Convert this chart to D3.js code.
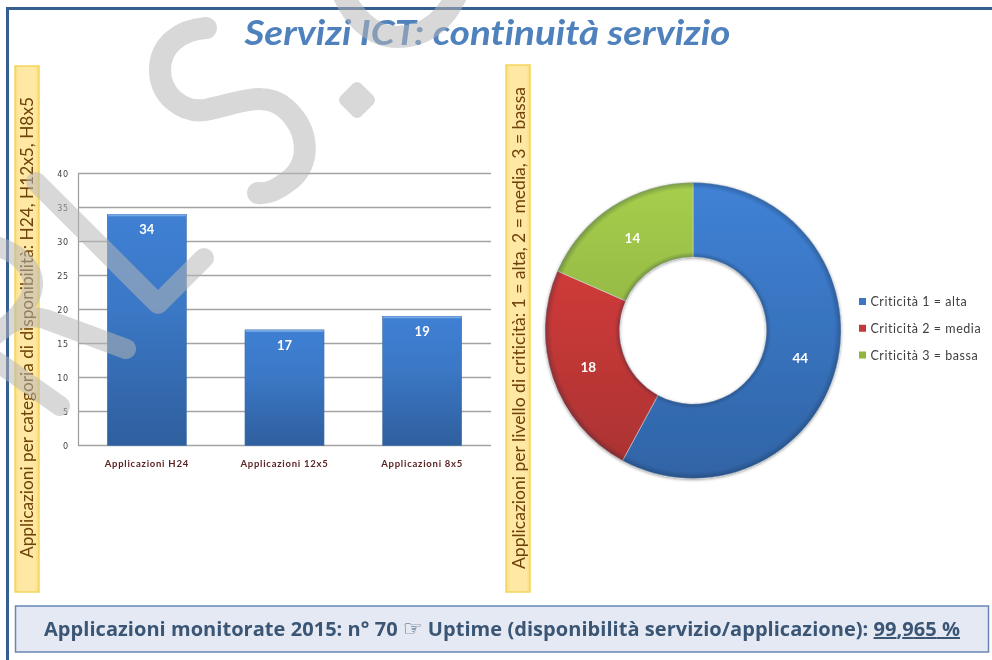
<!DOCTYPE html>
<html><head><meta charset="utf-8">
<script src="https://cdn.jsdelivr.net/npm/d3@7/dist/d3.min.js"></script>
<style>html,body{margin:0;padding:0;background:#fff}svg{display:block}text{font-family:Lato,"Open Sans",sans-serif;font-variant-ligatures:none}</style>
</head><body><svg id="c" width="992" height="660"></svg>
<script>
const titleText = "Servizi ICT: continuità servizio";
const leftCaption = "Applicazioni per categoria di disponibilità: H24, H12x5, H8x5";
const rightCaption = "Applicazioni per livello di criticità: 1 = alta, 2 = media, 3 = bassa";
const barCategories = ["Applicazioni H24", "Applicazioni 12x5", "Applicazioni 8x5"];
const barValues = [34, 17, 19];
const yTicks = [0, 5, 10, 15, 20, 25, 30, 35, 40];
const donutCategories = ["Criticità 1 = alta", "Criticità 2 = media", "Criticità 3 = bassa"];
const donutValues = [44, 18, 14];
const footerLead = "Applicazioni monitorate 2015: n° 70 ";
const footerHand = "☞";
const footerMid = " Uptime (disponibilità servizio/applicazione): ";
const footerValue = "99,965 %";

const svg = d3.select("#c");
const defs = svg.append("defs");
const soft = defs.append("filter").attr("id","soft");
soft.append("feGaussianBlur").attr("stdDeviation",0.35);
const shadow = defs.append("filter").attr("id","shadow").attr("x","-10%").attr("y","-10%").attr("width","120%").attr("height","120%");
shadow.append("feDropShadow").attr("dx",0).attr("dy",1).attr("stdDeviation",1.5).attr("flood-color","#000").attr("flood-opacity",0.4);

function vGrad(id, stops, attrs){
  const g = defs.append("linearGradient").attr("id",id).attr("x1",0).attr("y1",0).attr("x2",0).attr("y2",1);
  if(attrs) Object.entries(attrs).forEach(([k,v])=>g.attr(k,v));
  stops.forEach(([o,c])=>g.append("stop").attr("offset",o).attr("stop-color",c));
}
vGrad("barG",[[0,"#3f80d4"],[0.4,"#3b78c6"],[1,"#2f5f9e"]]);
const donutGrads=[["#4082d6","#3064a6"],["#e03e3c","#a93232"],["#a7ce4c","#7f9f3a"]];
donutGrads.forEach((c,i)=>vGrad("dg"+i,[[0,c[0]],[1,c[1]]],{gradientUnits:"userSpaceOnUse",x1:0,y1:-148,x2:0,y2:148}));
const cap = defs.append("linearGradient").attr("id","capG").attr("x1",0).attr("y1",0).attr("x2",1).attr("y2",0);
[[0,"#f8df74"],[0.15,"#ffe7a4"],[0.85,"#ffe7a4"],[1,"#f8df74"]].forEach(([o,c])=>cap.append("stop").attr("offset",o).attr("stop-color",c));
const bevel = defs.append("radialGradient").attr("id","bevel").attr("gradientUnits","userSpaceOnUse").attr("cx",0).attr("cy",0).attr("r",148);
[[0.497,0.28],[0.53,0],[0.955,0],[1,0.3]].forEach(([o,a])=>bevel.append("stop").attr("offset",o).attr("stop-color","#10233a").attr("stop-opacity",a));

// page frame
svg.append("rect").attr("x",6).attr("y",7).attr("width",986).attr("height",3).attr("fill","#365f91");
svg.append("rect").attr("x",6).attr("y",7).attr("width",3).attr("height",653).attr("fill","#365f91");

// title
svg.append("text").text(titleText).attr("x",487.5).attr("y",45).attr("text-anchor","middle")
  .attr("font-size",34).attr("font-style","italic").attr("font-weight",700).attr("fill","#4f81bd")
  .attr("textLength",486).attr("lengthAdjust","spacingAndGlyphs").attr("filter","url(#soft)");

// side captions
[[15,66,526,leftCaption,33,558,461],[506,65,527,rightCaption,525,569,482]].forEach(([x,y,h,t,tx,ty,len])=>{
  svg.append("rect").attr("x",x).attr("y",y).attr("width",24).attr("height",h).attr("fill","url(#capG)")
    .attr("stroke","#f5d55c").attr("stroke-width",1.5);
  svg.append("text").text(t).attr("transform",`translate(${tx},${ty}) rotate(-90)`)
    .attr("font-size",17.5).attr("fill","#6e4208").attr("textLength",len).attr("lengthAdjust","spacingAndGlyphs")
    .attr("filter","url(#soft)");
});

// bar chart
const x = d3.scaleBand().domain(barCategories).range([78,491]).paddingInner(0.426).paddingOuter(0.213);
const y = d3.scaleLinear().domain([0,40]).range([445.5,173.5]);
const yAxis = d3.axisLeft(y).tickValues(yTicks).tickSize(0).tickPadding(9);
const yG = svg.append("g").attr("transform","translate(78,0)").call(yAxis);
yG.select(".domain").attr("stroke","#9a9a9a").attr("stroke-width",1.2);
yG.selectAll("text").attr("font-size",8).attr("fill","#404040").attr("letter-spacing",0.8)
  .style("font-family","'DejaVu Sans',sans-serif").attr("filter","url(#soft)");
svg.append("g").selectAll("line").data(yTicks).join("line")
  .attr("x1",78).attr("x2",491).attr("y1",d=>y(d)).attr("y2",d=>y(d))
  .attr("stroke","#a3a3a3").attr("stroke-width",1.3);

const bars = svg.append("g").selectAll("g").data(barValues).join("g");
bars.append("rect").attr("x",(d,i)=>x(barCategories[i])).attr("y",d=>y(d))
  .attr("width",x.bandwidth()).attr("height",d=>y(0)-y(d)).attr("fill","url(#barG)")
  .attr("stroke","#3f6ea8").attr("stroke-width",0.6);
bars.append("rect").attr("x",(d,i)=>x(barCategories[i])+0.5).attr("y",d=>y(d)).attr("width",x.bandwidth()-1).attr("height",2)
  .attr("fill","#74a8e4");
bars.append("text").text(d=>d).attr("x",(d,i)=>x(barCategories[i])+x.bandwidth()/2).attr("y",d=>y(d)+20)
  .attr("text-anchor","middle").attr("font-size",13).attr("font-weight",700).attr("fill","#fff").attr("filter","url(#soft)");
svg.append("g").selectAll("text").data(barCategories).join("text").text(d=>d)
  .attr("x",d=>x(d)+x.bandwidth()/2).attr("y",466.5).attr("text-anchor","middle")
  .attr("font-size",9.5).attr("font-weight",700).attr("fill","#5b2222").attr("letter-spacing",0.75).attr("filter","url(#soft)");

// donut chart
const pie = d3.pie().sort(null).value(d=>d);
const arc = d3.arc().innerRadius(73.5).outerRadius(148);
const dG = svg.append("g").attr("transform","translate(693,330.5)");
const arcs = pie(donutValues);
dG.append("g").attr("filter","url(#shadow)").selectAll("path").data(arcs).join("path")
  .attr("d",arc).attr("fill",(d,i)=>`url(#dg${i})`).attr("stroke","#c9d3dc").attr("stroke-width",0.6);
dG.append("g").selectAll("path").data(arcs).join("path").attr("d",arc).attr("fill","url(#bevel)");
dG.append("g").selectAll("text").data(arcs).join("text").text(d=>d.data)
  .attr("x",d=>arc.centroid(d)[0]).attr("y",d=>arc.centroid(d)[1]+5.5)
  .attr("text-anchor","middle").attr("font-size",13.5).attr("font-weight",700).attr("fill","#fff").attr("filter","url(#soft)");

// legend
const legendColors=["#3c76c0","#c23a38","#8fb53f"];
const ly = d3.scalePoint().domain(donutCategories).range([301.5,355]);
const lg = svg.append("g").selectAll("g").data(donutCategories).join("g");
lg.append("rect").attr("x",859).attr("y",d=>ly(d)-3.5).attr("width",7).attr("height",7).attr("fill",(d,i)=>legendColors[i]);
lg.append("text").text(d=>d).attr("x",870.5).attr("y",d=>ly(d)+4.5).attr("font-size",12.5).attr("fill","#404040")
  .attr("letter-spacing",0.55).attr("filter","url(#soft)");

// footer
svg.append("rect").attr("x",15.5).attr("y",606).attr("width",973).attr("height",46).attr("fill","#e4e9f3")
  .attr("stroke","#6a86b6").attr("stroke-width",1.5);
const ft = svg.append("text").attr("x",44).attr("y",636).attr("font-size",20).attr("font-weight",700).attr("fill","#3a5575")
  .style("font-family","'Open Sans',sans-serif").attr("textLength",916).attr("lengthAdjust","spacing").attr("filter","url(#soft)");
ft.append("tspan").text(footerLead);
ft.append("tspan").text(footerHand).style("font-family","'DejaVu Sans'").attr("font-weight",400).attr("font-size",22);
ft.append("tspan").text(footerMid);
ft.append("tspan").text(footerValue).attr("text-decoration","underline");

// watermark
const wm = svg.append("g").attr("opacity",0.53).attr("fill","none").attr("stroke","#b7b7b7")
  .attr("stroke-width",22).attr("stroke-linecap","round").attr("stroke-linejoin","round");
const sPaths = [
 "M206,28 C180,30 160,45 160,70 C160,95 182,113 205,110 C240,103 264,90 285,108 C310,130 312,165 287,182 C277,190 268,194 258,193",
 "M338,-20 C350,20 375,37 397,37 C425,37 450,20 462,-20"
];
sPaths.forEach(d=>wm.append("path").attr("d",d));
const rPaths = [
 "M36,182 L158,304 L204,258",
 "M-8,245 C20,252 34,270 33,285 C32,305 10,325 -8,337 C10,322 25,313 45,319 L126,349",
 "M-8,358 L60,406"
];
rPaths.forEach(d=>wm.append("path").attr("d",d).attr("stroke-width",20));
wm.append("rect").attr("x",-14.5).attr("y",-14.5).attr("width",29).attr("height",29).attr("rx",6)
  .attr("transform","translate(357,100) rotate(45)").attr("fill","#b7b7b7").attr("stroke","none");
</script></body></html>
